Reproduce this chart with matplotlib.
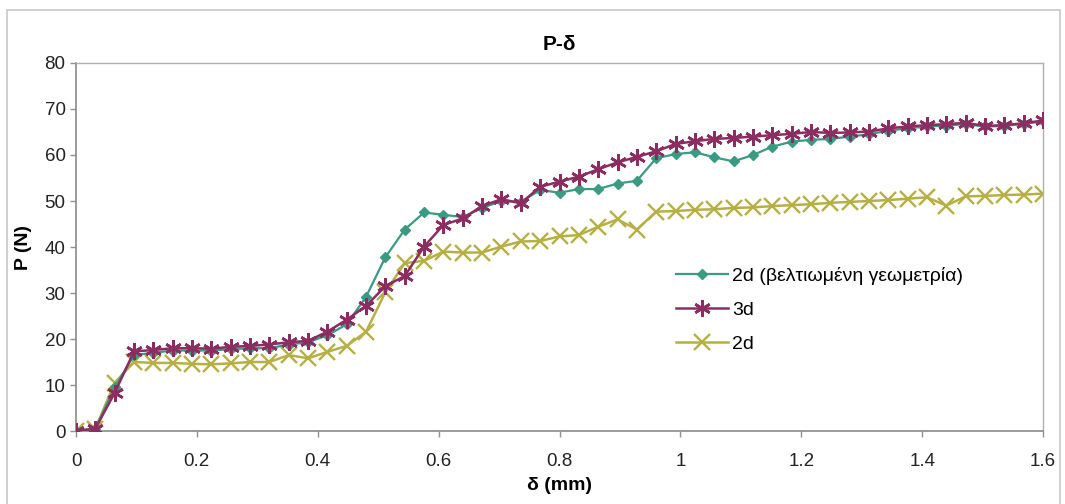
import numpy as np
import matplotlib.pyplot as plt
from matplotlib.patches import Rectangle

# Μετατόπιση δ (mm), κοινή για όλες τις σειρές
delta = np.round(np.arange(51) * 0.032, 3)

# 2d (βελτιωμένη γεωμετρία)
p_2d_improved = [0, 0.5, 9.5, 16.5, 17.0, 17.5, 17.5, 17.5, 17.8, 18.0,
                 18.0, 18.8, 19.3, 20.8, 23.2, 29.2, 37.8, 43.8, 47.5, 47.0,
                 46.5, 48.5, 50.0, 49.8, 52.4, 51.8, 52.6, 52.6, 53.8, 54.4,
                 59.3, 60.2, 60.6, 59.5, 58.6, 60.0, 61.8, 62.9, 63.3, 63.5,
                 64.0, 64.5, 65.3, 65.8, 66.2, 66.4, 66.7, 66.2, 66.3, 66.8,
                 67.3]

# 3d
p_3d = [0, 0.5, 8.3, 17.3, 17.6, 18.0, 18.0, 17.9, 18.3, 18.5,
        18.8, 19.3, 19.6, 21.6, 24.2, 27.2, 31.5, 33.7, 40.1, 44.8,
        46.2, 48.9, 50.4, 49.5, 53.1, 54.2, 55.3, 56.9, 58.4, 59.6,
        60.8, 62.4, 63.0, 63.5, 63.7, 64.0, 64.3, 64.6, 65.0, 64.8,
        64.9, 65.1, 65.8, 66.2, 66.5, 66.7, 67.0, 66.3, 66.5, 66.9,
        67.5]

# 2d
p_2d = [0, 0.5, 10.5, 15.0, 14.8, 14.8, 14.6, 14.5, 14.7, 15.0,
        15.0, 16.5, 15.8, 17.2, 18.5, 21.6, 30.2, 36.5, 37.0, 39.0,
        38.8, 38.8, 40.1, 41.2, 41.3, 42.3, 42.6, 44.4, 46.0, 43.8,
        47.7, 47.8, 48.1, 48.2, 48.5, 48.6, 48.9, 49.1, 49.3, 49.6,
        49.8, 50.0, 50.2, 50.5, 50.8, 49.0, 51.0, 51.1, 51.3, 51.4,
        51.6]

series_labels = ['2d (βελτιωμένη γεωμετρία)', '3d', '2d']

plt.rcParams['font.family'] = ['Liberation Sans', 'DejaVu Sans']

fig = plt.figure(figsize=(10.65, 5.04), dpi=100)
ax = fig.add_axes([76 / 1065, 73 / 504, 967 / 1065, 368 / 504])

# Πλαίσιο γραφήματος
fig.patches.append(Rectangle((7 / 1065, -0.05), 1053 / 1065, 1.05 - 10 / 504,
                             transform=fig.transFigure, fill=False,
                             edgecolor='#c8c8c8', linewidth=1.2))

ax.plot(delta, p_2d_improved, color='#3a9a82', linewidth=1.6,
        marker='D', markersize=5, label=series_labels[0], zorder=3)
ax.plot(delta, p_3d, color='#8c2d62', linewidth=1.8,
        marker=(6, 2, 0), markersize=12, markeredgewidth=1.9,
        label=series_labels[1], zorder=4)
ax.plot(delta, p_2d, color='#b6b044', linewidth=1.8,
        marker='x', markersize=12, markeredgewidth=1.7,
        label=series_labels[2], zorder=2)

ax.set_xlim(0, 1.6)
ax.set_ylim(0, 80)
ax.set_xticks(np.arange(0, 1.61, 0.2))
ax.set_xticklabels(['0', '0.2', '0.4', '0.6', '0.8', '1', '1.2', '1.4', '1.6'])
ax.set_yticks(np.arange(0, 81, 10))
ax.tick_params(labelsize=13.5, colors='#222222', length=4, width=1,
               direction='out')
ax.tick_params(axis='x', pad=12)
ax.tick_params(axis='both', color='#909090')

for side in ['left', 'bottom']:
    ax.spines[side].set_color('#8a8a8a')
    ax.spines[side].set_linewidth(1.2)
for side in ['top', 'right']:
    ax.spines[side].set_color('#b0b0b0')
    ax.spines[side].set_linewidth(1.0)

ax.set_title('P-δ', fontsize=15, fontweight='bold', pad=9)
ax.set_xlabel('δ (mm)', fontsize=14, fontweight='bold', labelpad=5)
ax.set_ylabel('P (N)', fontsize=14, fontweight='bold', labelpad=9)

ax.legend(loc='upper left', bbox_to_anchor=(0.61, 0.472), frameon=False,
          fontsize=14, handlelength=2.7, handletextpad=0.2,
          labelspacing=0.85, borderpad=0)

fig.savefig('out.png', dpi=100, facecolor='white')
